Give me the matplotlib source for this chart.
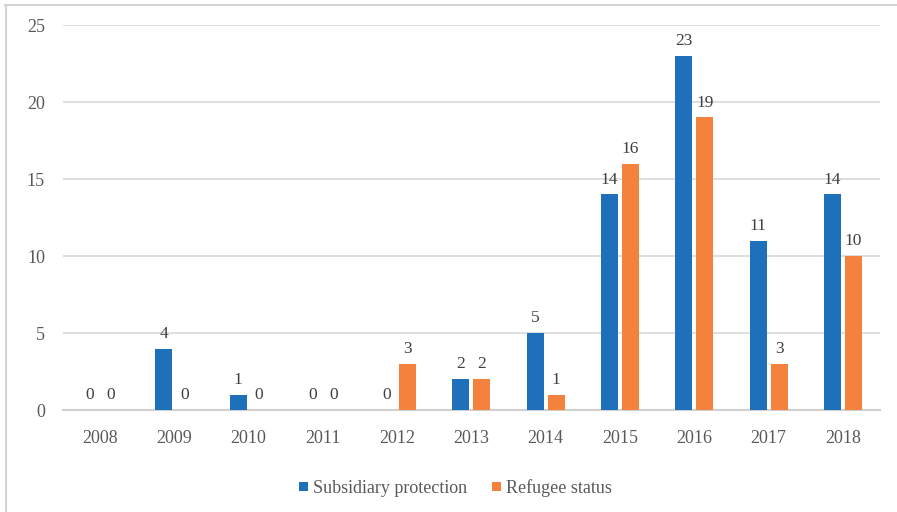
import numpy as np
import matplotlib
matplotlib.use("Agg")
import matplotlib.pyplot as plt
from matplotlib.lines import Line2D

years = ["2008", "2009", "2010", "2011", "2012", "2013",
         "2014", "2015", "2016", "2017", "2018"]
subsidiary = [0, 4, 1, 0, 0, 2, 5, 14, 23, 11, 14]
refugee = [0, 0, 0, 0, 3, 2, 1, 16, 19, 3, 10]

BLUE = "#1f70bb"
ORANGE = "#f4823d"
TICK = "#595959"
LABEL = "#404040"

plt.rcParams["font.family"] = ["Liberation Serif", "DejaVu Serif"]

fig = plt.figure(figsize=(8.97, 5.12), dpi=100)
ax = fig.add_axes([0.0702, 0.199, 0.9108, 0.752])

x = np.arange(len(years))
w = 0.229
off = 0.141
b1 = ax.bar(x - off, subsidiary, w, color=BLUE, label="Subsidiary protection", zorder=3)
b2 = ax.bar(x + off, refugee, w, color=ORANGE, label="Refugee status", zorder=3)

for bars, vals in ((b1, subsidiary), (b2, refugee)):
    for b, v in zip(bars, vals):
        ax.annotate(str(v), (b.get_x() + b.get_width() / 2, v),
                    xytext=(0, 5), textcoords="offset points",
                    ha="center", va="bottom", fontsize=12.5, color=LABEL)

ax.set_xlim(-0.5, len(years) - 0.5)
ax.set_ylim(0, 25)
ax.set_yticks(range(0, 26, 5))
ax.set_xticks(x)
ax.set_xticklabels(years)
ax.tick_params(axis="both", length=0, labelsize=13, colors=TICK)
ax.tick_params(axis="x", pad=14)
ax.tick_params(axis="y", pad=13)
ax.grid(axis="y", color="#d9d9d9", linewidth=1.2, zorder=0)
for s in ("left", "right", "top"):
    ax.spines[s].set_visible(False)
ax.spines["bottom"].set_color("#d0d0d0")
ax.spines["bottom"].set_linewidth(1.5)

ax.legend(loc="center", bbox_to_anchor=(0.508, 0.047), bbox_transform=fig.transFigure,
          ncol=2, frameon=False, fontsize=13, handlelength=0.45, handleheight=0.45,
          handletextpad=0.3, columnspacing=1.4, labelcolor=TICK)

# outer frame (top and left edges visible)
fig.add_artist(Line2D([5 / 897, 1], [1 - 4.5 / 512, 1 - 4.5 / 512],
                      transform=fig.transFigure, color="#d4d4d4", linewidth=1.5))
fig.add_artist(Line2D([5.5 / 897, 5.5 / 897], [0, 1 - 4.5 / 512],
                      transform=fig.transFigure, color="#d4d4d4", linewidth=1.5))

fig.savefig("out.png", dpi=100)
